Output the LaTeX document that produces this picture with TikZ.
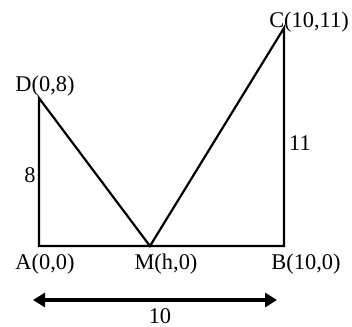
\documentclass[tikz,border=0pt]{standalone}
\usepackage{fontspec}
\setmainfont{Liberation Serif}
\usetikzlibrary{arrows.meta}
\begin{document}
\begin{tikzpicture}[x=1bp, y=-1bp, font=\fontsize{22.5}{25}\selectfont]
		\useasboundingbox (0, 0) rectangle (352, 327);
		\coordinate (A) at (39, 246);
		\coordinate (M) at (150, 246);
		\coordinate (B) at (284, 246);
		\coordinate (C) at (284, 28);
		\coordinate (D) at (39, 98);
		\draw[line width=2.2bp] (A) -- (B) -- (C) -- (M) -- (D) -- cycle;
		\node (lA) at (45, 264) {A(0,0)};
		\node (lM) at (166, 264) {M(h,0)};
		\node (lB) at (306, 264) {B(10,0)};
		\node (lC) at (309, 22) {C(10,11)};
		\node (lD) at (45, 86) {D(0,8)};
		\node (l8) at (30, 175) {8};
		\node (l11) at (300, 143) {11};
		% base length
		\coordinate (L) at (33, 300);
		\coordinate (R) at (277, 300);
		\draw[line width=3.4bp, {Triangle[length=12bp, width=14bp]}-{Triangle[length=12bp, width=14bp]}] (L) -- (R);
		\node[inner sep=1bp] (l10) at (160, 316) {10};
	\end{tikzpicture}
\end{document}
